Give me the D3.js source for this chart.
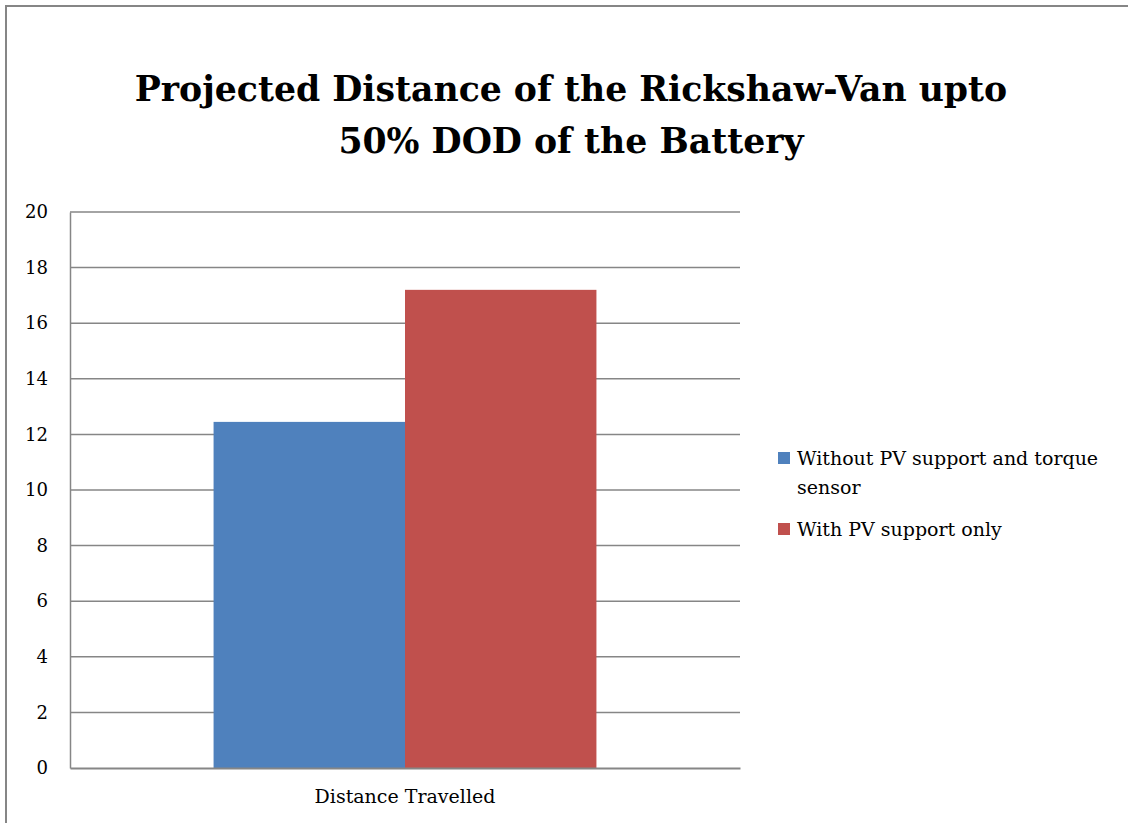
<!DOCTYPE html>
<html>
<head>
<meta charset="utf-8">
<script src="https://cdn.jsdelivr.net/npm/d3@7"></script>
<style>
  html, body { margin: 0; padding: 0; background: #fff; }
</style>
</head>
<body>
<div id="graph"></div>
<script>
const categories = ["Distance Travelled"];
const seriesNames = ["Without PV support and torque sensor", "With PV support only"];
const seriesValues = [12.45, 17.2];
const seriesColors = ["#4f81bd", "#c0504d"];
const yTicks = [0, 2, 4, 6, 8, 10, 12, 14, 16, 18, 20];
const titleLines = ["Projected Distance of the Rickshaw-Van upto", "50% DOD of the Battery"];

const w = 1128;
const h = 823;
const plot = { left: 70, right: 740, top: 212, bottom: 768 };
const serif = "DejaVu Serif";

// shrink/grow a text selection so its first node is about `target` px wide
function fitWidth(sel, size, target, maxSize) {
  const len = sel.node().getComputedTextLength();
  const fs = len > 0 ? Math.min(maxSize, size * target / len) : size;
  sel.attr("font-size", fs);
  return fs;
}

const svg = d3.select("#graph")
              .append("svg")
              .attr("width", w)
              .attr("height", h)
              .attr("font-family", serif);

// outer chart frame (runs off the right and bottom edge)
svg.append("rect")
   .attr("x", 6).attr("y", 6)
   .attr("width", w + 20).attr("height", h + 20)
   .attr("fill", "none")
   .attr("stroke", "#868686")
   .attr("stroke-width", 2);

const titles = svg.selectAll(".title")
   .data(titleLines)
   .enter()
   .append("text")
   .attr("class", "title")
   .attr("x", 571)
   .attr("y", (d, i) => 101 + i * 52)
   .attr("text-anchor", "middle")
   .attr("font-size", 38)
   .attr("font-weight", "bold")
   .text(d => d);
fitWidth(titles, 38, 873, 46);

const xScale = d3.scaleBand()
                 .domain(categories)
                 .range([plot.left, plot.right]);

const yScale = d3.scaleLinear()
                 .domain([0, 20])
                 .range([plot.bottom, plot.top]);

const inner = d3.scaleBand()
                .domain(seriesNames)
                .range([0, xScale.bandwidth()])
                .paddingOuter(0.75);

// gridlines
svg.append("g")
   .selectAll("line")
   .data(yTicks.filter(t => t > 0))
   .enter()
   .append("line")
   .attr("x1", plot.left).attr("x2", plot.right)
   .attr("y1", d => yScale(d)).attr("y2", d => yScale(d))
   .attr("stroke", "#868686")
   .attr("stroke-width", 1.5);

// bars
categories.forEach((cat) => {
  svg.append("g")
     .selectAll("rect")
     .data(seriesNames)
     .enter()
     .append("rect")
     .attr("x", d => xScale(cat) + inner(d))
     .attr("y", (d, i) => yScale(seriesValues[i]))
     .attr("width", inner.bandwidth())
     .attr("height", (d, i) => plot.bottom - yScale(seriesValues[i]))
     .attr("fill", (d, i) => seriesColors[i]);
});

// y axis
const yAxis = d3.axisLeft(yScale).tickValues(yTicks).tickSize(0).tickPadding(22);
const gy = svg.append("g")
              .attr("transform", "translate(" + plot.left + ",0)")
              .call(yAxis)
              .attr("font-family", serif)
              .attr("font-size", 18);
gy.select(".domain").attr("stroke", "#868686").attr("stroke-width", 1.5);
gy.selectAll("text").attr("fill", "#000");
const tickSize = fitWidth(gy.selectAll("text").filter(d => d === 20), 18, 23, 19);
gy.selectAll("text").attr("font-size", tickSize);

// x axis
const xAxis = d3.axisBottom(xScale).tickSize(0).tickPadding(22);
const gx = svg.append("g")
              .attr("transform", "translate(0," + plot.bottom + ")")
              .call(xAxis)
              .attr("font-family", serif)
              .attr("font-size", 18);
gx.select(".domain").attr("stroke", "#868686").attr("stroke-width", 2);
gx.selectAll("text").attr("fill", "#000");
fitWidth(gx.selectAll("text"), 18, 190, 19);

// legend
const legendItems = [
  { lines: ["Without PV support and torque", "sensor"], y: 465 },
  { lines: ["With PV support only"], y: 536 }
];
const legend = svg.append("g")
                  .attr("font-size", 18);
legendItems.forEach((item, i) => {
  legend.append("rect")
        .attr("x", 778).attr("y", item.y - 13)
        .attr("width", 12).attr("height", 12)
        .attr("fill", seriesColors[i]);
  item.lines.forEach((ln, j) => {
    legend.append("text")
          .attr("class", "legend-text")
          .attr("x", 797)
          .attr("y", item.y + j * 29)
          .text(ln);
  });
});
const legendTexts = legend.selectAll(".legend-text");
const legendSize = fitWidth(legendTexts, 18, 313, 19);
legendTexts.attr("font-size", legendSize);
</script>
</body>
</html>
